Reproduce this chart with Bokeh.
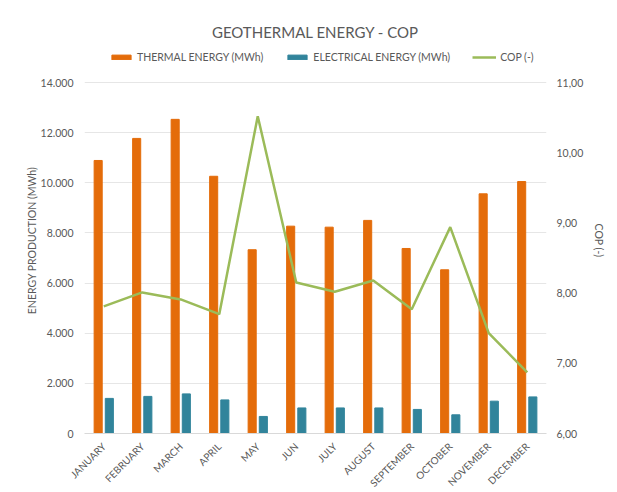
from bokeh.plotting import figure
from bokeh.models import (ColumnDataSource, FactorRange, Range1d, LinearAxis, FixedTicker,
                          CustomJSTickFormatter, Legend, LegendItem)
from bokeh.transform import dodge
from bokeh.embed import file_html
from bokeh.resources import INLINE
import math

months = ["JANUARY", "FEBRUARY", "MARCH", "APRIL", "MAY", "JUN", "JULY", "AUGUST",
          "SEPTEMBER", "OCTOBER", "NOVEMBER", "DECEMBER"]
thermal = [10890, 11770, 12530, 10260, 7330, 8270, 8230, 8500, 7380, 6530, 9560, 10050]
electrical = [1400, 1480, 1580, 1340, 680, 1020, 1020, 1020, 960, 745, 1290, 1460]
cop = [7.81, 8.01, 7.91, 7.70, 10.52, 8.15, 8.02, 8.18, 7.77, 8.94, 7.43, 6.87]
energy_ticks = [0, 2000, 4000, 6000, 8000, 10000, 12000, 14000]
cop_ticks = [6, 7, 8, 9, 10, 11]

FONT = "Lato"
GRAY = "#595959"

# layout: the frame extends above the axis top to host the legend
FRAME_H = 386          # full frame height in px
AXIS_H = 351           # height used by the value axes (0..14000 / 6..11)
scale = FRAME_H / AXIS_H
y_top = energy_ticks[-1] * scale
cop_top = cop_ticks[0] + (cop_ticks[-1] - cop_ticks[0]) * scale

src = ColumnDataSource(dict(month=months, thermal=thermal, electrical=electrical, cop=cop))

p = figure(x_range=FactorRange(*months), y_range=Range1d(0, y_top),
           frame_width=462, frame_height=FRAME_H,
           min_border_left=84, min_border_right=62, min_border_top=47, min_border_bottom=50,
           output_backend="svg", toolbar_location=None)
p.extra_y_ranges = {"cop": Range1d(cop_ticks[0], cop_top)}

r1 = p.vbar(x=dodge("month", -0.145, range=p.x_range), top="thermal", width=0.21,
            source=src, color="#E46C0A", line_color="#E46C0A")
r2 = p.vbar(x=dodge("month", 0.145, range=p.x_range), top="electrical", width=0.21,
            source=src, color="#31849B", line_color="#31849B")
r3 = p.line(x="month", y="cop", source=src, y_range_name="cop",
            line_color="#9BBB59", line_width=2.5)

# title
p.title.text = "GEOTHERMAL ENERGY - COP"
p.title.align = "center"
p.title.text_font = FONT
p.title.text_font_size = "15px"
p.title.text_font_style = "normal"
p.title.text_color = GRAY
p.title.standoff = 14

# axes
p.yaxis.ticker = FixedTicker(ticks=energy_ticks)
p.yaxis.formatter = CustomJSTickFormatter(code="return tick == 0 ? '0' : (tick/1000).toFixed(3);")
p.yaxis.axis_label = "ENERGY PRODUCTION (MWh)"

right = LinearAxis(y_range_name="cop", ticker=FixedTicker(ticks=cop_ticks),
                   formatter=CustomJSTickFormatter(code="return tick.toFixed(2).replace('.', ',');"),
                   axis_label="COP (-)")
p.add_layout(right, "right")

for ax in [p.yaxis[0], right]:
    ax.axis_line_color = None
    ax.major_tick_line_color = None
    ax.minor_tick_line_color = None
    ax.major_label_text_font = FONT
    ax.major_label_text_font_size = "10.5px"
    ax.major_label_text_color = GRAY
    ax.axis_label_text_font = FONT
    ax.axis_label_text_font_size = "10.5px"
    ax.axis_label_text_font_style = "normal"
    ax.axis_label_text_color = GRAY

p.yaxis[0].major_label_standoff = 5
p.yaxis[0].axis_label_standoff = 0
right.major_label_standoff = 4
right.axis_label_standoff = 7

xa = p.xaxis[0]
xa.axis_line_color = "#D9D9D9"
xa.major_tick_line_color = None
xa.minor_tick_line_color = None
xa.major_label_orientation = math.pi / 4
xa.major_label_text_font = FONT
xa.major_label_text_font_size = "10px"
xa.major_label_text_color = GRAY
xa.major_label_standoff = 5

p.xgrid.grid_line_color = None
p.ygrid.grid_line_color = "#E6E6E6"
p.outline_line_color = None
p.x_range.range_padding = 0.0

legend = Legend(items=[LegendItem(label="THERMAL ENERGY (MWh)", renderers=[r1]),
                       LegendItem(label="ELECTRICAL ENERGY (MWh)", renderers=[r2]),
                       LegendItem(label="COP (-)", renderers=[r3])],
                orientation="horizontal", location=(25, 369),
                label_text_font=FONT, label_text_font_size="10.5px", label_text_color=GRAY,
                glyph_width=24, glyph_height=6, label_height=14, spacing=22, label_standoff=4,
                background_fill_alpha=0, border_line_color=None, padding=0, margin=0)
p.add_layout(legend, "center")

open("out.html", "w").write(file_html(p, INLINE))
